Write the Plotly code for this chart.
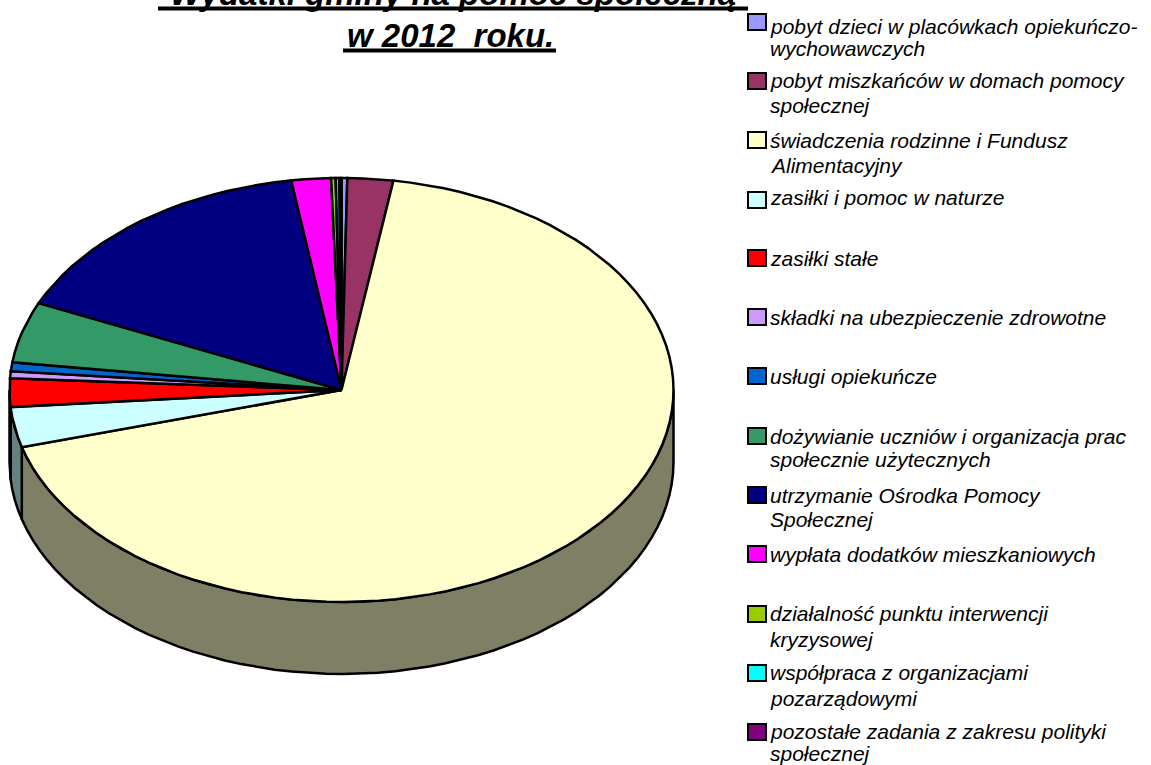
import math
import plotly.graph_objects as go

# ---- data -------------------------------------------------------------
title_lines = ["Wydatki gminy na pomoc społeczną", "w 2012  roku."]
categories = [
    "pobyt dzieci w placówkach opiekuńczo-<br>wychowawczych",
    "pobyt miszkańców w domach pomocy<br>społecznej",
    "świadczenia rodzinne i Fundusz<br>Alimentacyjny",
    "zasiłki i pomoc w naturze",
    "zasiłki stałe",
    "składki na ubezpieczenie zdrowotne",
    "usługi opiekuńcze",
    "dożywianie uczniów i organizacja prac<br>społecznie użytecznych",
    "utrzymanie Ośrodka Pomocy<br>Społecznej",
    "wypłata dodatków mieszkaniowych",
    "działalność punktu interwencji<br>kryzysowej",
    "współpraca z organizacjami<br>pozarządowymi",
    "pozostałe zadania z zakresu polityki<br>społecznej",
]
values = [0.28, 2.22, 68.17, 3.06, 2.17, 0.53, 0.67, 4.64, 15.86, 1.92, 0.22, 0.18, 0.10]
colors = ["#9999FF", "#993366", "#FFFFCC", "#CCFFFF", "#FF0000", "#CC99FF", "#0066CC",
          "#339966", "#000080", "#FF00FF", "#99CC00", "#00FFFF", "#800080"]

# ---- geometry of the tilted pie (pixels) --------------------------------
CX, CY, RX, RY, DEPTH = 341.5, 390.0, 332.0, 212.0, 72.0
STEP = 3.0
W, H = 1151, 765


def edge(t):
    r = math.radians(t)
    return CX + RX * math.sin(r), CY - RY * math.cos(r)


def arc(a, b):
    n = max(1, int(math.ceil((b - a) / STEP)))
    return [edge(a + (b - a) * i / n) for i in range(n + 1)]


def darker(c):
    return "#%02X%02X%02X" % tuple(int(c[i:i + 2], 16) // 2 for i in (1, 3, 5))


fig = go.Figure()
total = sum(values)
spans, acc = [], 0.0
for v in values:
    spans.append((acc, acc + v / total * 360))
    acc += v / total * 360

# side wall (only the front half of the disc is visible)
for name, col, (a, b) in zip(categories, colors, spans):
    lo, hi = max(a, 90), min(b, 270)
    if hi <= lo:
        continue
    top = arc(lo, hi)
    pts = top + [(x, y + DEPTH) for x, y in reversed(top)] + [top[0]]
    fig.add_trace(go.Scatter(x=[p[0] for p in pts], y=[p[1] for p in pts], mode="lines",
                             fill="toself", fillcolor=darker(col),
                             line=dict(color="black", width=2.5), name=name.replace("<br>", " "),
                             hoverinfo="name", showlegend=False))

# top face
for name, col, (a, b) in zip(categories, colors, spans):
    pts = [(CX, CY)] + arc(a, b) + [(CX, CY)]
    fig.add_trace(go.Scatter(x=[p[0] for p in pts], y=[p[1] for p in pts], mode="lines",
                             fill="toself", fillcolor=col,
                             line=dict(color="black", width=2.5), name=name.replace("<br>", " "),
                             hoverinfo="name", showlegend=False))

# ---- hand-placed legend --------------------------------------------------
LEG_SWATCH_X0, LEG_SWATCH_X1, LEG_TEXT_X = 748, 766, 769
swatch_y = [22, 81, 140, 200, 258, 317, 376, 436, 495, 554, 614, 673, 732]
first_line_y = [27, 81, 140, 198, 258, 317, 376, 436, 495, 554, 613, 672, 731]
second_gap = [22, 25, 25, 0, 0, 0, 0, 23, 24, 0, 26, 26, 22]
LEG_FONT = dict(family="Liberation Sans", size=21, color="black", style="italic")

annotations, shapes = [], []
for cat, col, sy, ly, gap in zip(categories, colors, swatch_y, first_line_y, second_gap):
    shapes.append(dict(type="rect", xref="x", yref="y", x0=LEG_SWATCH_X0, x1=LEG_SWATCH_X1,
                       y0=sy - 8, y1=sy + 8, fillcolor=col, line=dict(color="black", width=2)))
    for i, line in enumerate(cat.split("<br>")):
        annotations.append(dict(text=line, xref="paper", yref="paper", x=LEG_TEXT_X / W,
                                y=1 - (ly + i * gap) / H, xanchor="left", yanchor="middle",
                                showarrow=False, font=LEG_FONT, borderpad=0))

# ---- title ---------------------------------------------------------------
TITLE_FONT = dict(family="Liberation Sans", size=33, color="black", style="italic", weight="bold")
title_pos = [(453, 13), (450, 55)]
underline_pos = [(158, 748, 8.5), (343, 556, 50.5)]
for txt, (tx, ty) in zip(title_lines, title_pos):
    annotations.append(dict(text=txt, xref="paper", yref="paper", x=tx / W, y=1 - ty / H,
                            xanchor="center", yanchor="bottom", showarrow=False, font=TITLE_FONT,
                            borderpad=0))
for x0, x1, y in underline_pos:
    shapes.append(dict(type="line", xref="x", yref="y", x0=x0, x1=x1, y0=y, y1=y,
                       line=dict(color="black", width=4)))

fig.update_layout(
    width=W, height=H, autosize=False, margin=dict(l=0, r=0, t=0, b=0),
    paper_bgcolor="white", plot_bgcolor="white", showlegend=False,
    xaxis=dict(range=[0, W], visible=False, fixedrange=True),
    yaxis=dict(range=[H, 0], visible=False, fixedrange=True),
    annotations=annotations, shapes=shapes,
)
fig.write_html("out.html", post_script="document.body.style.margin='0';",
               config={"displayModeBar": False})
